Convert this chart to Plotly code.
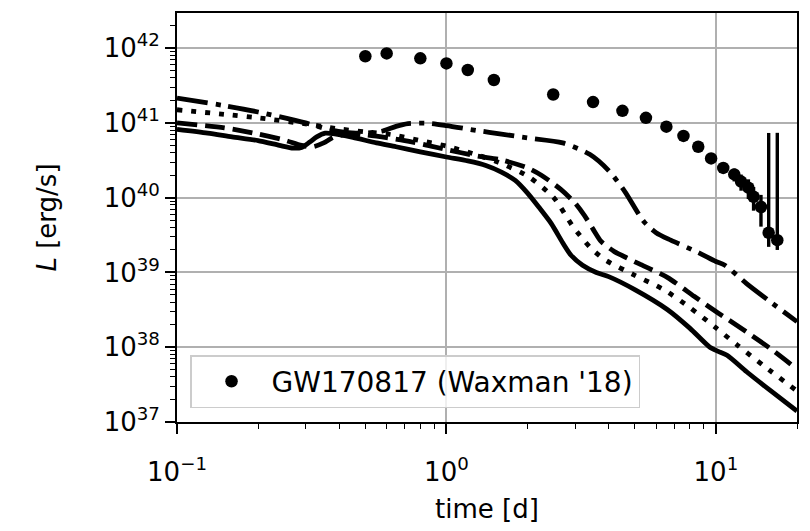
import plotly.graph_objects as go

# ---- observed data: GW170817 (Waxman '18) ----
obs_t = [0.50, 0.60, 0.80, 1.00, 1.20, 1.50, 2.49, 3.50, 4.50, 5.50, 6.55, 7.58,
         8.60, 9.60, 10.65, 11.7, 12.4, 13.2, 13.8, 14.7, 15.7, 16.9]
obs_L = [7.8e41, 8.5e41, 7.3e41, 6.25e41, 5.1e41, 3.75e41, 2.4e41, 1.9e41, 1.45e41,
         1.17e41, 8.9e40, 6.7e40, 4.8e40, 3.35e40, 2.5e40, 2.05e40, 1.64e40, 1.36e40,
         1.03e40, 7.5e39, 3.4e39, 2.7e39]
obs_err_plus = [3.9e40, 4.2e40, 3.6e40, 3.1e40, 2.5e40, 1.9e40, 1.2e40, 9.5e39, 7.2e39,
                5.8e39, 4.5e39, 3.4e39, 2.4e39, 1.7e39, 2.5e39, 4.0e39, 4.0e39, 4.0e39,
                3.6e39, 3.4e39, 7.0e40, 7.1e40]
obs_err_minus = [3.9e40, 4.2e40, 3.6e40, 3.1e40, 2.5e40, 1.9e40, 1.2e40, 9.5e39, 7.2e39,
                 5.8e39, 4.5e39, 3.4e39, 2.4e39, 1.7e39, 2.5e39, 4.0e39, 4.0e39, 4.0e39,
                 3.6e39, 3.4e39, 1.2e39, 0.7e39]

# ---- model curves ----
solid_t = [0.10, 0.13, 0.16, 0.20, 0.24, 0.27, 0.29, 0.31, 0.33, 0.355, 0.38, 0.45, 0.55,
           0.65, 0.80, 1.0, 1.2, 1.4, 1.6, 1.8, 2.0, 2.2, 2.45, 2.7, 2.9, 3.2, 3.6, 4.0,
           5.0, 6.6, 8.0, 9.5, 10.2, 11.0, 13.0, 16.0, 20.0]
solid_L = [8.2e40, 7.3e40, 6.5e40, 5.8e40, 5.0e40, 4.6e40, 4.7e40, 5.5e40, 6.5e40, 7.3e40,
           7.2e40, 6.4e40, 5.4e40, 4.8e40, 4.1e40, 3.5e40, 3.1e40, 2.7e40, 2.2e40, 1.7e40,
           1.15e40, 7.5e39, 4.5e39, 2.5e39, 1.7e39, 1.25e39, 1.0e39, 8.8e38, 5.9e38,
           3.2e38, 1.8e38, 1.0e38, 8.8e37, 7.8e37, 4.7e37, 2.6e37, 1.4e37]

dashed_t = [0.10, 0.15, 0.20, 0.25, 0.29, 0.32, 0.35, 0.38, 0.42, 0.50, 0.70, 1.0, 1.3,
            1.6, 2.0, 2.25, 2.65, 3.0, 3.25, 3.5, 3.75, 4.2, 4.7, 5.2, 6.6, 8.3, 10.0,
            10.8, 13.0, 16.0, 20.0]
dashed_L = [1.0e41, 8.6e40, 7.1e40, 5.9e40, 5.0e40, 4.8e40, 5.4e40, 6.4e40, 7.0e40, 6.9e40,
            5.8e40, 4.4e40, 3.6e40, 3.2e40, 2.5e40, 2.0e40, 1.3e40, 8.5e39, 5.8e39, 3.8e39,
            2.6e39, 1.9e39, 1.55e39, 1.3e39, 8.6e38, 4.8e38, 3.0e38, 2.5e38, 1.6e38,
            9.5e37, 5.1e37]

dotted_t = [0.10, 0.15, 0.20, 0.30, 0.40, 0.50, 0.62, 0.80, 1.0, 1.25, 1.55, 2.0, 2.5,
            2.95, 3.4, 3.85, 4.96, 6.4, 8.0, 9.85, 12.0, 15.0, 20.0]
dotted_L = [1.5e41, 1.3e41, 1.17e41, 9.7e40, 8.3e40, 7.6e40, 7.0e40, 5.8e40, 4.9e40, 3.9e40,
            3.0e40, 1.95e40, 1.0e40, 4.1e39, 2.2e39, 1.5e39, 9.3e38, 5.9e38, 3.4e38,
            1.9e38, 1.07e38, 5.7e37, 2.6e37]

dashdot_t = [0.10, 0.15, 0.20, 0.30, 0.36, 0.42, 0.50, 0.58, 0.65, 0.72, 0.85, 1.0, 1.3,
             1.6, 2.0, 2.7, 3.4, 4.0, 4.6, 5.4, 6.0, 6.8, 8.6, 10.0, 10.8, 13.0, 16.0, 20.0]
dashdot_L = [2.15e41, 1.7e41, 1.4e41, 1.0e41, 8.3e40, 7.5e40, 7.3e40, 7.8e40, 9.0e40, 9.8e40,
             9.9e40, 9.2e40, 7.9e40, 7.1e40, 6.3e40, 5.4e40, 3.8e40, 2.3e40, 1.2e40, 4.8e39,
             3.4e39, 2.7e39, 1.85e39, 1.4e39, 1.25e39, 7.1e38, 4.0e38, 2.2e38]

# ---- tick labels ----
x_tickvals = [0.1, 1, 10]
x_ticktext = ["10<sup>\u22121</sup>", "10<sup>0</sup>", "10<sup>1</sup>"]
y_tickvals = [1e37, 1e38, 1e39, 1e40, 1e41, 1e42]
y_ticktext = ["10<sup>37</sup>", "10<sup>38</sup>", "10<sup>39</sup>",
              "10<sup>40</sup>", "10<sup>41</sup>", "10<sup>42</sup>"]

FONT = "DejaVu Sans"
FS = 26
LW = 4.8

fig = go.Figure()

curves = [
    (solid_t, solid_L, "solid"),
    (dashed_t, dashed_L, "20px,8px"),
    (dotted_t, dotted_L, "5px,9px"),
    (dashdot_t, dashdot_L, "31px,8px,5px,8px"),
]
for t, L, dash in curves:
    fig.add_trace(go.Scatter(
        x=t, y=L, mode="lines", showlegend=False, hoverinfo="skip",
        line=dict(color="black", width=LW, dash=dash, shape="spline", smoothing=0.7),
    ))

fig.add_trace(go.Scatter(
    x=obs_t, y=obs_L, mode="markers", name="GW170817 (Waxman '18)",
    marker=dict(color="black", size=12.5, symbol="circle"),
    error_y=dict(type="data", symmetric=False, array=obs_err_plus,
                 arrayminus=obs_err_minus, color="black", thickness=3.4, width=0),
))

axis_common = dict(
    type="log", showline=True, linecolor="black", linewidth=1.7, mirror=True,
    ticks="outside", ticklen=10, tickwidth=1.8, tickcolor="black",
    showgrid=True, gridcolor="#b0b0b0", gridwidth=1.7, zeroline=False,
    automargin=False,
    tickfont=dict(family=FONT, size=FS, color="black"),
    minor=dict(ticks="outside", ticklen=5, tickwidth=1.4, tickcolor="black",
               dtick="D1", showgrid=False),
)

fig.update_xaxes(**axis_common, range=[-1, 1.30103],
                 tickmode="array", tickvals=x_tickvals, ticktext=x_ticktext,
                 ticklabelstandoff=16,
                 title=dict(text="time [d]", standoff=14),
                 title_font=dict(family=FONT, size=FS, color="black"))
fig.update_yaxes(**axis_common, range=[37, 42.47],
                 tickmode="array", tickvals=y_tickvals, ticktext=y_ticktext,
                 title=dict(text="<i>L</i> [erg/s]", standoff=40),
                 title_font=dict(family=FONT, size=FS, color="black"))

fig.update_layout(
    width=810, height=531,
    margin=dict(l=177, r=13, t=13, b=109),
    paper_bgcolor="white", plot_bgcolor="white",
    font=dict(family=FONT, size=FS, color="black"),
    legend=dict(x=0.021, y=0.034, xanchor="left", yanchor="bottom",
                bgcolor="rgba(255,255,255,0.8)", bordercolor="#cccccc", borderwidth=1.5,
                font=dict(family=FONT, size=28, color="black"), itemwidth=70),
)

fig.write_html("out.html")
